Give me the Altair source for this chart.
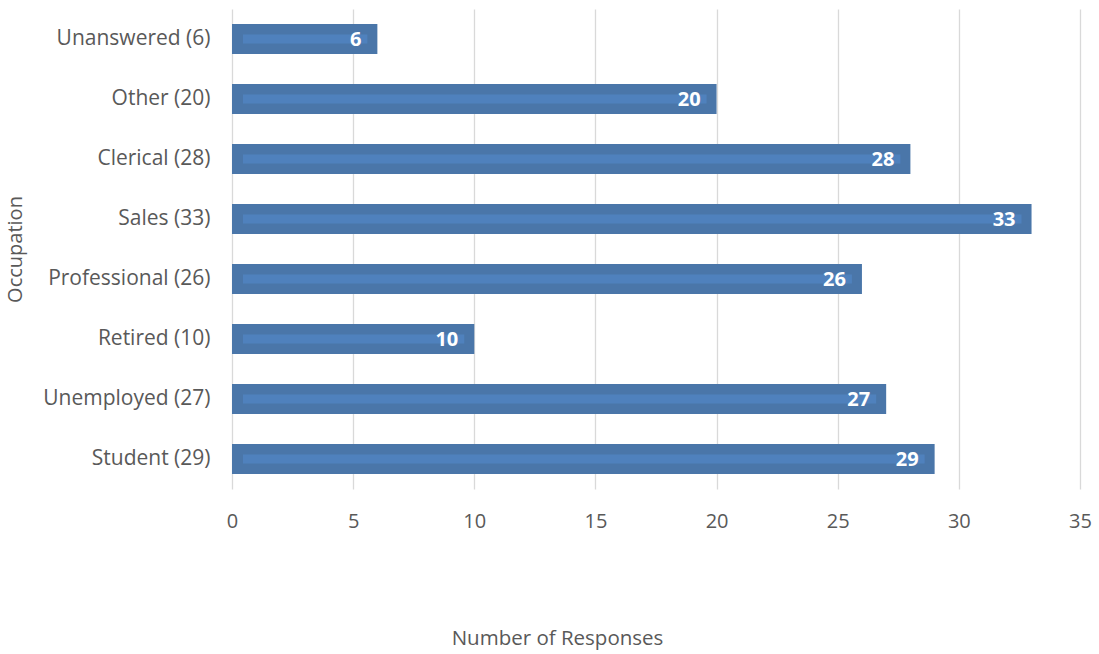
import altair as alt
import pandas as pd

categories = ["Unanswered (6)", "Other (20)", "Clerical (28)", "Sales (33)",
              "Professional (26)", "Retired (10)", "Unemployed (27)", "Student (29)"]
values = [6, 20, 28, 33, 26, 10, 27, 29]
x_ticks = [0, 5, 10, 15, 20, 25, 30, 35]

df = pd.DataFrame({"cat": categories, "val": values})

FONT = "Open Sans"
GRAY = "#595959"

x_enc = alt.X("val:Q", scale=alt.Scale(domain=[0, 35], nice=False),
              axis=alt.Axis(values=x_ticks, title="Number of Responses", grid=True,
                            gridColor="#d9d9d9", gridWidth=1.3, domain=False, ticks=False,
                            labelFlush=False,
                            labelFont=FONT, labelFontSize=20, labelColor=GRAY, labelPadding=22,
                            titleFont=FONT, titleFontSize=20.5, titleColor=GRAY, titleFontWeight="normal",
                            titleX=325, titleY=149, titleBaseline="middle", titleAlign="center"))
y_enc = alt.Y("cat:N", sort=categories,
              scale=alt.Scale(paddingInner=0.5, paddingOuter=0.25),
              axis=alt.Axis(title="Occupation", domain=False, ticks=False, grid=False,
                            labelFont=FONT, labelFontSize=21, labelColor=GRAY, labelPadding=22,
                            titleFont=FONT, titleFontSize=20, titleColor=GRAY, titleFontWeight="normal",
                            titleAngle=-90, titleX=-217, titleY=240, titleAlign="center",
                            titleBaseline="middle"))

base = alt.Chart(df)
bars = base.mark_bar(color="#4a76a9", size=30).encode(x=x_enc, y=y_enc)
stripe = base.mark_bar(color="#4f81bd", size=9, xOffset=11, x2Offset=-10).encode(
    x=alt.X("zero:Q"), x2="val:Q", y=alt.Y("cat:N", sort=categories)
).transform_calculate(zero="0")
labels = base.mark_text(align="right", baseline="middle", dx=-16, dy=1, color="white",
                        font=FONT, fontSize=20, fontWeight="bold").encode(
    x="val:Q", y=alt.Y("cat:N", sort=categories), text="val:Q")

chart = alt.layer(bars, stripe, labels).properties(
    width=848, height=480,
    autosize=alt.AutoSizeParams(type="none"),
    padding={"left": 232, "top": 9, "right": 19, "bottom": 165},
).configure(background="white").configure_view(stroke=None, strokeWidth=0)

chart.save("out.html", embed_options={"renderer": "svg", "actions": False})
